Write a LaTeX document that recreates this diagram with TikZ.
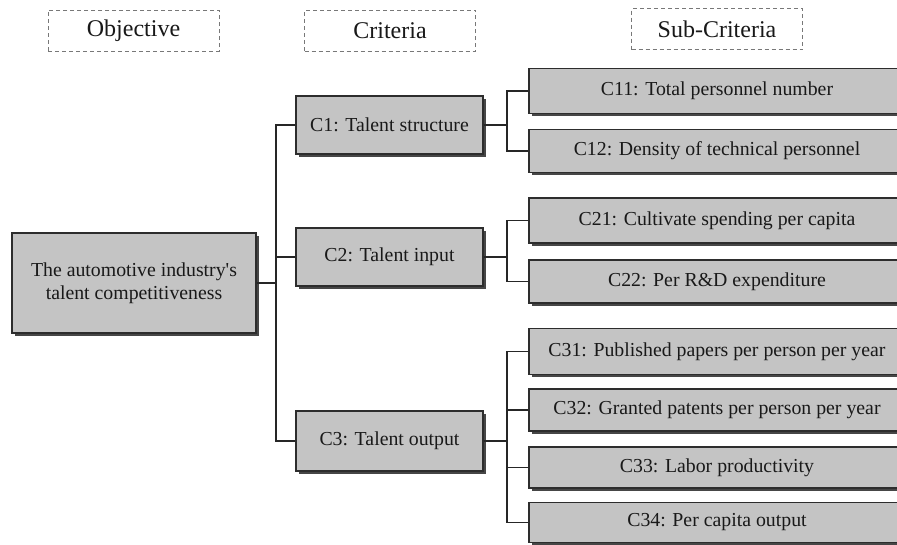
\documentclass[tikz,border=0pt]{standalone}
\usepackage{fontspec}
\setmainfont{Liberation Serif}
\usetikzlibrary{shadows}
\definecolor{boxfill}{RGB}{196,196,196}
\definecolor{boxline}{RGB}{45,45,45}
\definecolor{shadowc}{RGB}{70,70,70}
\definecolor{headline}{RGB}{120,120,120}
\tikzset{
  gbox/.style={draw=boxline, line width=1.1pt, fill=boxfill, inner sep=2pt,
    drop shadow={shadow xshift=2.6pt, shadow yshift=-2.6pt, fill=shadowc, opacity=1},
    font=\fontsize{19.8}{23}\selectfont, align=center, text=black!90},
  hbox/.style={draw=headline, dashed, dash pattern=on 4pt off 3pt, line width=0.8pt,
    minimum width=171pt, minimum height=41pt, font=\fontsize{24}{28}\selectfont, text=black!90},
  conn/.style={draw=black!85, line width=1.4pt}
}
\begin{document}
\begin{tikzpicture}[x=1pt,y=-1pt]
\useasboundingbox (0,0) rectangle (897,544);
\clip (0,0) rectangle (897,544);
\fill[white] (0,0) rectangle (897,544);
% headers
\node[hbox] (h1) at (133.5,30.5) {Objective};
\node[hbox] (h2) at (390,30.5) {Criteria};
\node[hbox] (h3) at (717,29) {Sub-Criteria};
% objective
\node[gbox, minimum width=244pt, minimum height=100pt] (obj) at (134,283)
  {The automotive industry\textquotesingle s\\talent competitiveness};
% criteria
\node[gbox, minimum width=187pt, minimum height=58pt] (c1) at (389.5,125) {C1: Talent structure};
\node[gbox, minimum width=187pt, minimum height=58pt] (c2) at (389.5,257) {C2: Talent input};
\node[gbox, minimum width=187pt, minimum height=60pt] (c3) at (389.5,441) {C3: Talent output};
% sub-criteria
\node[gbox, minimum width=376pt, minimum height=45pt] (c11) at (717,91) {C11: Total personnel number};
\node[gbox, minimum width=376pt, minimum height=43pt] (c12) at (717,151) {C12: Density of technical personnel};
\node[gbox, minimum width=376pt, minimum height=45pt] (c21) at (717,220.5) {C21: Cultivate spending per capita};
\node[gbox, minimum width=376pt, minimum height=43pt] (c22) at (717,281.5) {C22: Per R\&D expenditure};
\node[gbox, minimum width=376pt, minimum height=46pt] (c31) at (717,351.5) {C31: Published papers per person per year};
\node[gbox, minimum width=376pt, minimum height=42pt] (c32) at (717,410) {C32: Granted patents per person per year};
\node[gbox, minimum width=376pt, minimum height=41pt] (c33) at (717,467.5) {C33: Labor productivity};
\node[gbox, minimum width=376pt, minimum height=40pt] (c34) at (717,522.5) {C34: Per capita output};
% buses
\coordinate (busA) at (276,0);
\coordinate (busB) at (507,0);
\draw[conn] (obj.east) -- (obj.east -| busA);
\draw[conn] (c1.west) -- (c1.west -| busA) -- (c3.west -| busA) -- (c3.west);
\draw[conn] (c2.west) -- (c2.west -| busA);
% C1 branch
\draw[conn] (c1.east) -- (c1.east -| busB);
\draw[conn] (c11.west) -- (c11.west -| busB) -- (c12.west -| busB) -- (c12.west);
% C2 branch
\draw[conn] (c2.east) -- (c2.east -| busB);
\draw[conn] (c21.west) -- (c21.west -| busB) -- (c22.west -| busB) -- (c22.west);
% C3 branch
\draw[conn] (c3.east) -- (c3.east -| busB);
\draw[conn] (c31.west) -- (c31.west -| busB) -- (c34.west -| busB) -- (c34.west);
\draw[conn] (c32.west) -- (c32.west -| busB);
\draw[conn] (c33.west) -- (c33.west -| busB);
\end{tikzpicture}
\end{document}
